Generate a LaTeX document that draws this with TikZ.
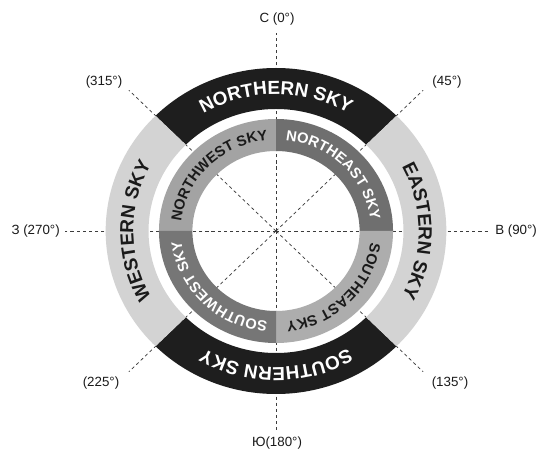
\documentclass[tikz,border=0pt]{standalone}
\usepackage{fontspec}
\setmainfont{Liberation Sans}
\usetikzlibrary{decorations.text}
\definecolor{bandblack}{HTML}{1E1E1E}
\definecolor{bandlight}{HTML}{D3D3D3}
\definecolor{nwgray}{HTML}{A3A3A3}
\definecolor{negray}{HTML}{6F6F6F}
\definecolor{segray}{HTML}{ADADAD}
\definecolor{swgray}{HTML}{767676}
\definecolor{dashgray}{HTML}{3C3C3C}
\definecolor{inktext}{HTML}{1A1A1A}
\newcommand{\kx}{1.045}
\newcommand{\skysector}[5]{%
  \fill[#5] (#1:{\kx*#4} and #4) arc[start angle=#1, end angle=#2, x radius={\kx*#4}, y radius=#4]
    -- (#2:{\kx*#3} and #3) arc[start angle=#2, end angle=#1, x radius={\kx*#3}, y radius=#3] -- cycle;}
\newcommand{\skytext}[5]{%
  \path[decorate, decoration={text along path, text align=center, text color=#4, text={#5}}]
    (#1:{\kx*#3} and #3) arc[start angle=#1, end angle=#2, x radius={\kx*#3}, y radius=#3];}
\newcommand{\outerfont}{\bfseries\fontsize{14.2}{15}\selectfont}
\newcommand{\innerfont}{\bfseries\fontsize{11}{12}\selectfont}
\tikzset{
  dashline/.style={draw=dashgray, line width=0.55pt, dash pattern=on 2.4pt off 2.2pt},
  deglabel/.style={font=\fontsize{10}{12}\selectfont, text=inktext, inner sep=0pt}
}
\begin{document}
\begin{tikzpicture}[x=0.75pt, y=0.75pt]
\useasboundingbox (-276,-221) rectangle (265,231);
\fill[white] (-276,-221) rectangle (265,231);
\coordinate (O) at (0,0);
\coordinate (N) at (0,198);
\coordinate (S) at (0,-201);
\coordinate (E) at (212,0);
\coordinate (W) at (-211,0);
\coordinate (NE) at (45:{\kx*199} and 199);
\coordinate (NW) at (135:{\kx*199} and 199);
\coordinate (SW) at (225:{\kx*199} and 199);
\coordinate (SE) at (315:{\kx*199} and 199);
\foreach \p in {N,S,E,W,NE,NW,SW,SE} \draw[dashline] (O) -- (\p);
% outer ring
\skysector{45}{135}{122}{163}{bandblack}
\skysector{225}{315}{122}{163}{bandblack}
\skysector{-45}{45}{122}{163}{bandlight}
\skysector{135}{225}{122}{163}{bandlight}
% inner ring
\skysector{90}{180}{80}{112}{nwgray}
\skysector{0}{90}{80}{112}{negray}
\skysector{-90}{0}{80}{112}{segray}
\skysector{180}{270}{80}{112}{swgray}
% ring texts
\skytext{160}{20}{136.5}{white}{|\outerfont|NORTHERN SKY}
\skytext{-20}{-160}{136.5}{white}{|\outerfont|SOUTHERN SKY}
\skytext{70}{-70}{136.5}{inktext}{|\outerfont|EASTERN SKY}
\skytext{250}{110}{136.5}{inktext}{|\outerfont|WESTERN SKY}
\skytext{200}{70}{91}{inktext}{|\innerfont|NORTHWEST SKY}
\skytext{110}{-20}{91}{white}{|\innerfont|NORTHEAST SKY}
\skytext{20}{-110}{91}{inktext}{|\innerfont|SOUTHEAST SKY}
\skytext{-70}{-200}{91}{white}{|\innerfont|SOUTHWEST SKY}
% labels
\node[deglabel] (lN) at (1,212) {С (0°)};
\node[deglabel] (lS) at (1,-212) {Ю(180°)};
\node[deglabel, anchor=east] (lW) at (-216,0) {З (270°)};
\node[deglabel, anchor=west] (lE) at (219,0) {В (90°)};
\node[deglabel] (lNW) at (-172,149) {(315°)};
\node[deglabel] (lNE) at (171,149) {(45°)};
\node[deglabel] (lSW) at (-175,-152) {(225°)};
\node[deglabel] (lSE) at (174,-152) {(135°)};
\end{tikzpicture}
\end{document}
